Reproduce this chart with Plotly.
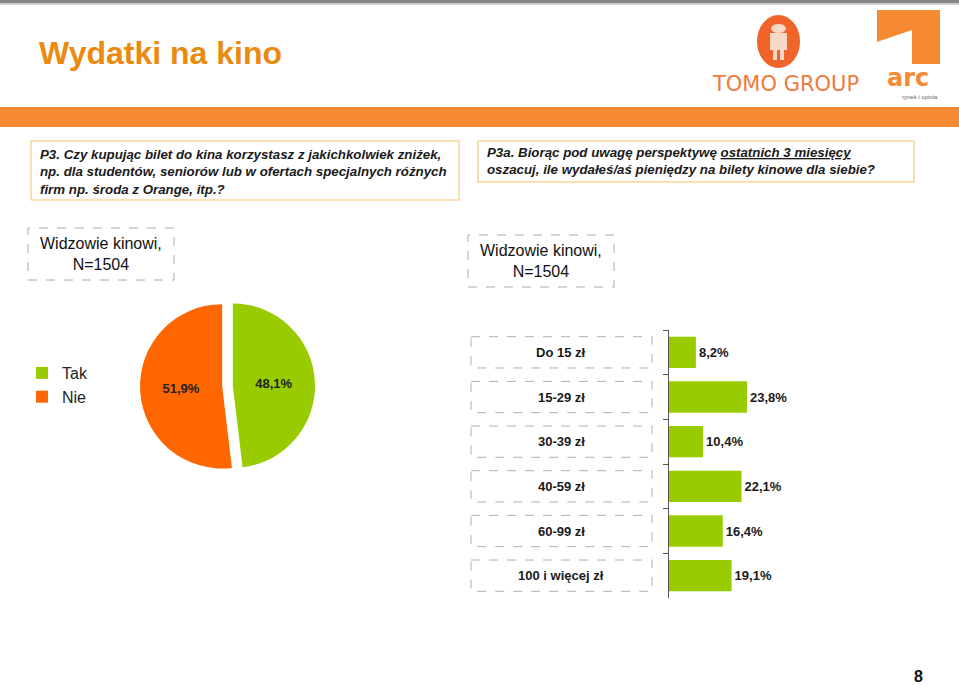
import plotly.graph_objects as go

W, H = 959, 686
def px(x): return x / W
def py(y): return 1 - y / H

FONT = "Liberation Sans, Arial, sans-serif"

# ---- data ----
pie_labels = ["Tak", "Nie"]
pie_values = [48.1, 51.9]
pie_colors = ["#99CC00", "#FF6600"]

bar_categories = ["Do 15 zł", "15-29 zł", "30-39 zł", "40-59 zł", "60-99 zł", "100 i więcej zł"]
bar_values = [8.2, 23.8, 10.4, 22.1, 16.4, 19.1]
bar_color = "#99CC00"

def pct(v):
    return f"{v:.1f}%".replace(".", ",")

fig = go.Figure()

fig.add_trace(go.Pie(
    labels=pie_labels, values=pie_values, sort=False, direction="clockwise", rotation=0,
    marker=dict(colors=pie_colors, line=dict(width=0)),
    pull=[0.065, 0.065],
    text=[pct(v) for v in pie_values], textinfo="text", textposition="inside",
    texttemplate="<b>%{text}</b>",
    insidetextorientation="horizontal",
    textfont=dict(family=FONT, size=13, color="#222222"),
    domain=dict(x=[px(140), px(315)], y=[py(386 + 87.5), py(386 - 87.5)]),
    showlegend=True, hoverinfo="label+percent",
))

fig.add_trace(go.Bar(
    y=bar_categories, x=bar_values, orientation="h",
    marker=dict(color=bar_color, line=dict(width=0)),
    text=[pct(v) for v in bar_values], textposition="outside",
    textfont=dict(family=FONT, size=13, color="#1a1a1a"),
    texttemplate="<b>%{text}</b>", cliponaxis=False,
    showlegend=False, xaxis="x", yaxis="y",
))

shapes = []
annotations = []

# top gray bar
shapes.append(dict(type="rect", xref="paper", yref="paper", x0=0, x1=1, y0=py(3), y1=py(0),
                   fillcolor="#858585", line=dict(width=0), layer="below"))
shapes.append(dict(type="rect", xref="paper", yref="paper", x0=0, x1=1, y0=py(5), y1=py(3),
                   fillcolor="#CFCFCF", line=dict(width=0), layer="below"))
# orange band
shapes.append(dict(type="rect", xref="paper", yref="paper", x0=0, x1=1, y0=py(127), y1=py(107),
                   fillcolor="#F68A33", line=dict(width=0), layer="below"))

# title
annotations.append(dict(xref="paper", yref="paper", x=px(37), y=py(53), xanchor="left", yanchor="middle",
                        text="<b>Wydatki na kino</b>", showarrow=False,
                        font=dict(family=FONT, size=32, color="#EA8A0F")))

# TOMO GROUP logo (approximation)
shapes.append(dict(type="circle", xref="paper", yref="paper", x0=px(757), x1=px(800), y0=py(68), y1=py(15),
                   fillcolor="#F0642A", line=dict(width=0)))
shapes.append(dict(type="rect", xref="paper", yref="paper", x0=px(770), x1=px(787), y0=py(50), y1=py(33),
                   fillcolor="#F6D8C8", line=dict(width=0)))
shapes.append(dict(type="circle", xref="paper", yref="paper", x0=px(771), x1=px(786), y0=py(33), y1=py(24),
                   fillcolor="#F6D8C8", line=dict(width=0)))
shapes.append(dict(type="rect", xref="paper", yref="paper", x0=px(773), x1=px(777), y0=py(60), y1=py(50),
                   fillcolor="#F6D8C8", line=dict(width=0)))
shapes.append(dict(type="rect", xref="paper", yref="paper", x0=px(780), x1=px(784), y0=py(60), y1=py(50),
                   fillcolor="#F6D8C8", line=dict(width=0)))
annotations.append(dict(xref="paper", yref="paper", x=px(785), y=py(84), xanchor="center", yanchor="middle",
                        text="TOMO GROUP", showarrow=False,
                        font=dict(family="DejaVu Sans, sans-serif", size=21, color="#F07A3A")))
# arc logo (approximation)
shapes.append(dict(type="path", xref="paper", yref="paper",
                   path=f"M {px(877)} {py(10)} L {px(940)} {py(10)} L {px(940)} {py(64)} L {px(912)} {py(64)} "
                        f"L {px(912)} {py(30)} L {px(877)} {py(42)} Z",
                   fillcolor="#F68A33", line=dict(width=0)))
annotations.append(dict(xref="paper", yref="paper", x=px(908), y=py(78), xanchor="center", yanchor="middle",
                        text="<b>arc</b>", showarrow=False, borderpad=0,
                        font=dict(family="DejaVu Sans, sans-serif", size=24, color="#F68A33")))
annotations.append(dict(xref="paper", yref="paper", x=px(920), y=py(97), xanchor="center", yanchor="middle",
                        text="rynek i opinia", showarrow=False, borderpad=0,
                        font=dict(family=FONT, size=6, color="#666666")))

# question boxes
shapes.append(dict(type="rect", xref="paper", yref="paper", x0=px(31), x1=px(459), y0=py(200), y1=py(141),
                   fillcolor="white", line=dict(color="#F2C06A", width=1)))
annotations.append(dict(xref="paper", yref="paper", x=px(38), y=py(172), xanchor="left", yanchor="middle",
                        align="left", showarrow=False,
                        text="<b><i>P3. Czy kupując bilet do kina korzystasz z jakichkolwiek zniżek,<br>"
                             "np. dla studentów, seniorów lub w ofertach specjalnych różnych<br>"
                             "firm np. środa z Orange, itp.?</i></b>",
                        font=dict(family=FONT, size=13.3, color="#1a1a1a")))
shapes.append(dict(type="rect", xref="paper", yref="paper", x0=px(478), x1=px(914), y0=py(182), y1=py(141),
                   fillcolor="white", line=dict(color="#F2C06A", width=1)))
annotations.append(dict(xref="paper", yref="paper", x=px(485), y=py(161.5), xanchor="left", yanchor="middle",
                        align="left", showarrow=False,
                        text="<b><i>P3a. Biorąc pod uwagę perspektywę <u>ostatnich 3 miesięcy</u><br>"
                             "oszacuj, ile wydałeś/aś pieniędzy na bilety kinowe dla siebie?</i></b>",
                        font=dict(family=FONT, size=13.3, color="#1a1a1a")))

# sample boxes
for (x0, x1, y0, y1) in [(28, 174, 228, 280), (468, 614, 235, 287)]:
    shapes.append(dict(type="rect", xref="paper", yref="paper", x0=px(x0), x1=px(x1), y0=py(y1), y1=py(y0),
                       line=dict(color="#AAAAAA", width=1, dash="dash")))
    annotations.append(dict(xref="paper", yref="paper", x=px((x0 + x1) / 2), y=py((y0 + y1) / 2),
                            xanchor="center", yanchor="middle", showarrow=False,
                            text="Widzowie kinowi,<br>N=1504",
                            font=dict(family=FONT, size=16, color="#111111")))

# category boxes and labels for bar chart
for i, cat in enumerate(bar_categories):
    shapes.append(dict(type="rect", xref="paper", yref="y", x0=px(471), x1=px(652), y0=i - 0.35, y1=i + 0.35,
                       line=dict(color="#B0B0B0", width=1, dash="dash")))
    annotations.append(dict(xref="paper", yref="y", x=px(561), y=cat, xanchor="center", yanchor="middle",
                            showarrow=False, text=f"<b>{cat}</b>",
                            font=dict(family=FONT, size=13, color="#1a1a1a")))

# page number
annotations.append(dict(xref="paper", yref="paper", x=px(918), y=0, xanchor="center", yanchor="bottom",
                        showarrow=False, text="<b>8</b>", borderpad=0,
                        font=dict(family=FONT, size=16, color="#111111")))

fig.update_layout(
    width=W, height=H, margin=dict(l=0, r=0, t=0, b=0),
    paper_bgcolor="white", plot_bgcolor="rgba(0,0,0,0)",
    font=dict(family=FONT),
    shapes=shapes, annotations=annotations,
    bargap=0.3,
    xaxis=dict(domain=[px(669), px(869)], range=[0, 61], visible=False, fixedrange=True),
    yaxis=dict(domain=[py(598), py(330)], type="category", categoryarray=bar_categories,
               categoryorder="array", autorange="reversed",
               showline=True, linecolor="#555555", linewidth=1,
               ticks="outside", tickson="boundaries", ticklen=5, tickcolor="#555555",
               showticklabels=False, showgrid=False, zeroline=False, fixedrange=True),
    legend=dict(x=px(22), y=py(356), xanchor="left", yanchor="top",
                font=dict(family=FONT, size=16, color="#222222"),
                tracegroupgap=0, itemwidth=30,
                bgcolor="rgba(0,0,0,0)", itemclick=False),
    showlegend=True,
)

fig.write_html("out.html")
